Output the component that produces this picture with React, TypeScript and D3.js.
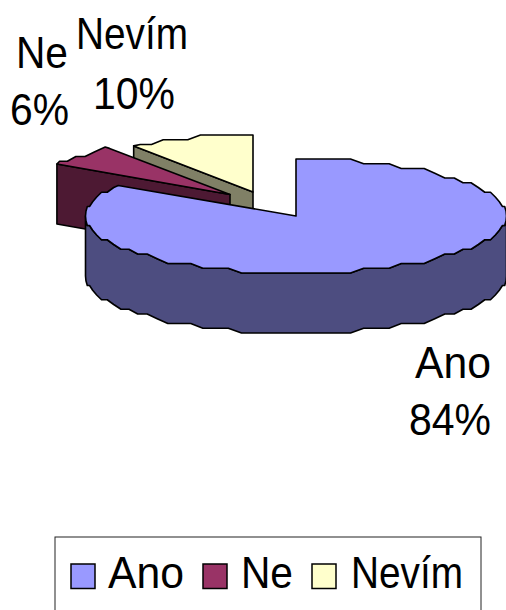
import React from "react";
import * as d3 from "d3";

const categories = ["Ano", "Ne", "Nevím"];
const values = [84, 6, 10];
const labels = ["84%", "6%", "10%"];
const topColors = ["#9999FF", "#993366", "#FFFFCC"];
const sideColors = ["#4D4D80", "#4D1933", "#808066"];

const W = 506, H = 610, RY = 57, DEPTH = 60;
const radiusX = [210.5, 205, 203];
const apexX = [296, 230, 253];
const apexY = [216, 194.5, 192];
const stepY = 4.75;
const stepA = Math.PI / 48;

const pieGen = d3.pie<number>().sort(null).value((d) => d);
const arcs = pieGen(values);

function project(i: number, a: number): [number, number] {
  return [apexX[i] + radiusX[i] * Math.sin(a), apexY[i] - RY * Math.cos(a)];
}
// Angles on one shared grid, so the wall and the top face follow the same steps.
function arcPoints(i: number, a0: number, a1: number, dy = 0): [number, number][] {
  const top = apexY[i] - RY;
  const lo = Math.min(a0, a1), hi = Math.max(a0, a1);
  const grid = d3.range(Math.ceil(lo / stepA), Math.floor(hi / stepA) + 1).map((k) => k * stepA);
  const angles = [lo, ...grid.filter((a) => a > lo + 1e-6 && a < hi - 1e-6), hi];
  if (a0 > a1) angles.reverse();
  return angles.map((a) => {
    const [x, y] = project(i, a);
    return [x, top + Math.round((y - top) / stepY) * stepY + dy] as [number, number];
  });
}
const line = d3.line<[number, number]>();

function slice(i: number) {
  const a = arcs[i];
  const pts = arcPoints(i, a.startAngle, a.endAngle);
  pts[0] = project(i, a.startAngle);
  pts[pts.length - 1] = project(i, a.endAngle);
  return line([[apexX[i], apexY[i]], ...pts])! + "Z";
}
function cutFace(i: number, angle: number) {
  const [x, y] = project(i, angle);
  return line([[apexX[i], apexY[i]], [x, y], [x, y + DEPTH], [apexX[i], apexY[i] + DEPTH]])! + "Z";
}
function wall(i: number, a0: number, a1: number) {
  return line([...arcPoints(i, a0, a1), ...arcPoints(i, a1, a0, DEPTH)])! + "Z";
}

const stroke = { stroke: "#000", strokeWidth: 1.6, strokeLinejoin: "round" as const };
const labelItems = [
  { t: categories[0], x: 415, y: 378, w: 76 },
  { t: labels[0], x: 409, y: 435, w: 82 },
  { t: categories[1], x: 16, y: 68, w: 52 },
  { t: labels[1], x: 10, y: 125, w: 59 },
  { t: categories[2], x: 76, y: 49, w: 112 },
  { t: labels[2], x: 93, y: 109, w: 82 },
];
const legendSwatchX = [71, 203, 312];
const legendTextX = [108, 241, 351];
const legendTextW = [76, 52, 112];

export default function App() {
  return (
    <svg width={W} height={H} style={{ position: "fixed", left: 0, top: 0, background: "#fff" }}
      fontFamily="'Liberation Sans', Arial, sans-serif">
      {/* Nevím */}
      <path d={cutFace(2, arcs[2].startAngle)} fill={sideColors[2]} {...stroke} />
      <path d={slice(2)} fill={topColors[2]} {...stroke} />
      {/* Ne */}
      <path d={cutFace(1, arcs[1].startAngle)} fill={sideColors[1]} {...stroke} />
      <path d={slice(1)} fill={topColors[1]} {...stroke} />
      {/* Ano */}
      <path d={wall(0, Math.PI / 2, (3 * Math.PI) / 2)} fill={sideColors[0]} {...stroke} />
      <path d={slice(0)} fill={topColors[0]} {...stroke} />
      {labelItems.map((d) => (
        <text key={d.t} x={d.x} y={d.y} fontSize={44} fill="#000" textLength={d.w} lengthAdjust="spacingAndGlyphs">{d.t}</text>
      ))}
      <rect x={55} y={537} width={426} height={90} fill="#fff" stroke="#222" strokeWidth={1} />
      {categories.map((c, i) => (
        <g key={c}>
          <rect x={legendSwatchX[i]} y={564} width={24} height={24.5} fill={topColors[i]} stroke="#000" strokeWidth={1.5} />
          <text x={legendTextX[i]} y={588} fontSize={44} fill="#000" textLength={legendTextW[i]} lengthAdjust="spacingAndGlyphs">{c}</text>
        </g>
      ))}
    </svg>
  );
}
